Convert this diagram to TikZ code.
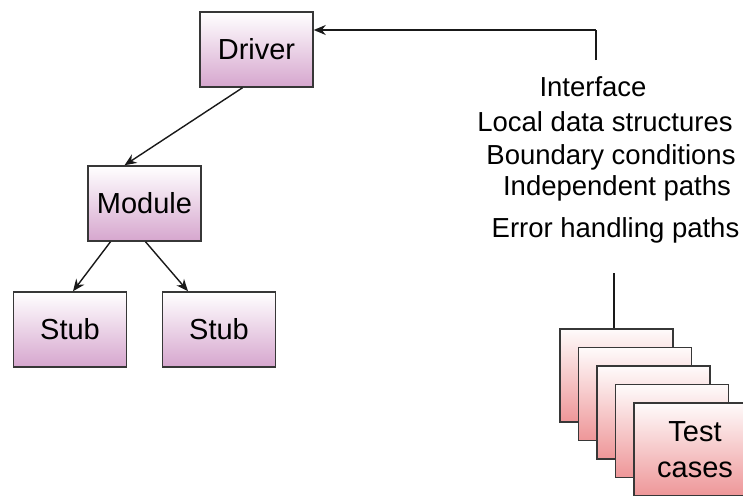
\documentclass[tikz,border=0pt]{standalone}
\usepackage{fontspec}
\setmainfont{Liberation Sans}
\usetikzlibrary{arrows.meta,calc}
\definecolor{boxbot}{RGB}{214,166,206}
\definecolor{cardbot}{RGB}{238,150,152}
\definecolor{edge}{RGB}{55,55,55}
\tikzset{
  box/.style={draw=edge, line width=1.5pt, rectangle, minimum width=113pt, minimum height=75pt, inner sep=0pt,
    top color=white, bottom color=boxbot, font=\fontsize{29}{32}\selectfont},
  card/.style={draw=edge, line width=1.5pt, rectangle, minimum width=113pt, minimum height=93pt, inner sep=0pt,
    top color=white!96!cardbot, bottom color=cardbot},
  cardtxt/.style={align=center, inner sep=0pt, font=\fontsize{29}{36}\selectfont},
  lbl/.style={anchor=base, inner sep=0pt, font=\fontsize{27.5}{30}\selectfont},
  conn/.style={draw=black!90, line width=1.4pt},
  arr/.style={conn, -{Stealth[length=12pt,width=10pt]}}
}
\begin{document}
\begin{tikzpicture}[x=1pt,y=-1pt]
\clip (0,0) rectangle (743,495);
\fill[white] (0,0) rectangle (743,495);
\node[box] (driver) at (256.5,49.5) {Driver};
\node[box] (module) at (144.5,203.5) {Module};
\node[box] (stub1) at (70,329.5) {Stub};
\node[box] (stub2) at (219,329.5) {Stub};

\node[lbl] (ifc) at (593,96) {Interface};
\node[lbl] (lds) at (605,131) {Local data structures};
\node[lbl] (bc) at (611,164) {Boundary conditions};
\node[lbl] (ip) at (617,195) {Independent paths};
\node[lbl] (ehp) at (615.5,237) {Error handling paths};

\node[card] (c1) at (616.5,375.5) {};
\node[card] (c2) at (635,394) {};
\node[card] (c3) at (653.5,412.5) {};
\node[card] (c4) at (672,431) {};
\node[card] (c5) at (690.5,449.5) {};
\node[cardtxt] (tc) at (695,450) {Test\\cases};

\coordinate (ifctop) at (596,60);
\coordinate (turn) at (596,30);
\draw[conn] (ifctop) -- (turn);
\draw[arr] (turn) -- (turn -| driver.east);
\draw[arr] ($(driver.south)+(-14,0)$) -- ($(module.north)+(-20,0)$);
\draw[arr] ($(module.south)+(-34,0)$) -- ($(stub1.north)+(3,0)$);
\draw[arr] ($(module.south)+(1,0)$) -- ($(stub2.north)+(-31,0)$);
\coordinate (ehpbot) at (614,273);
\draw[conn] (ehpbot) -- (ehpbot |- c1.north);
\end{tikzpicture}
\end{document}
